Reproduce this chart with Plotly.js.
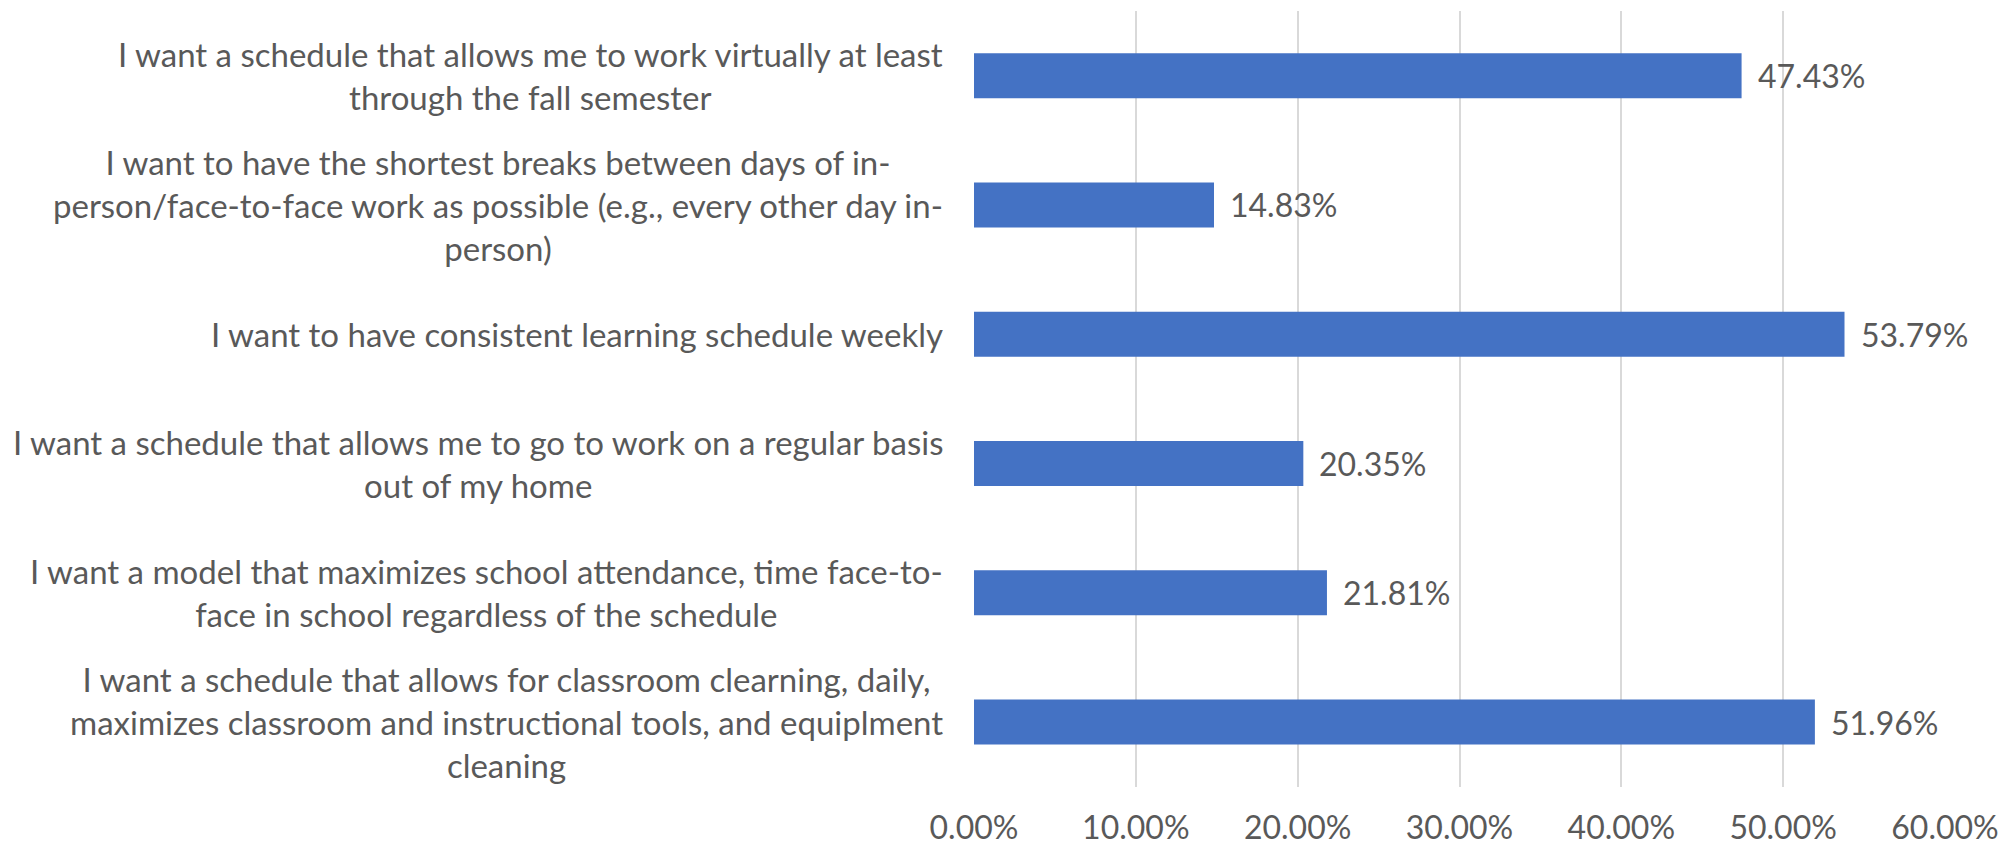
<!DOCTYPE html>
<html>
<head>
<meta charset="utf-8">
<script src="https://cdn.plot.ly/plotly-3.0.1.min.js"></script>
<style>
html,body{margin:0;padding:0;background:#fff;}
#chart{width:2015px;height:846px;}
</style>
</head>
<body>
<div id="chart"></div>
<script>
// Categories (top to bottom)
const categories = [
  "I want a schedule that allows me to work virtually at least<br>through the fall semester",
  "I want to have the shortest breaks between days of in-<br>person/face-to-face work as possible (e.g., every other day in-<br>person)",
  "I want to have consistent learning schedule weekly",
  "I want a schedule that allows me to go to work on a regular basis<br>out of my home",
  "I want a model that maximizes school attendance, time face-to-<br>face in school regardless of the schedule",
  "I want a schedule that allows for classroom clearning, daily,<br>maximizes classroom and instructional tools, and equiplment<br>cleaning"
];
const categoryKeys = ["c1","c2","c3","c4","c5","c6"];
// Share of respondents (fraction)
const values = [0.4743, 0.1483, 0.5379, 0.2035, 0.2181, 0.5196];
const valueLabels = ["47.43%", "14.83%", "53.79%", "20.35%", "21.81%", "51.96%"];
const tickValues = [0, 0.1, 0.2, 0.3, 0.4, 0.5, 0.6];
const tickLabels = ["0.00%", "10.00%", "20.00%", "30.00%", "40.00%", "50.00%", "60.00%"];

const textColor = "#595959";
const labelFont = {family: "Lato, 'Open Sans', sans-serif", size: 33, color: textColor};
const numFont = {family: "Lato, 'Open Sans', sans-serif", size: 32, color: textColor};

const trace = {
  type: "bar",
  orientation: "h",
  y: categoryKeys,
  x: values,
  marker: {color: "#4472C4"},
  hoverinfo: "skip"
};

const annotations = [];
categoryKeys.forEach((k, i) => {
  annotations.push({
    xref: "paper", yref: "y", x: 0, y: k,
    xanchor: "right", yanchor: "middle", xshift: -29,
    text: categories[i], align: "center", showarrow: false,
    font: labelFont
  });
  annotations.push({
    xref: "x", yref: "y", x: values[i], y: k,
    xanchor: "left", yanchor: "middle", xshift: 14,
    text: valueLabels[i], showarrow: false,
    font: numFont
  });
});

const layout = {
  width: 2015, height: 846,
  margin: {l: 974, r: 70, t: 11, b: 59, pad: 0},
  paper_bgcolor: "#ffffff",
  plot_bgcolor: "#ffffff",
  showlegend: false,
  bargap: 0.652,
  xaxis: {
    range: [0, 0.6],
    tickvals: tickValues,
    ticktext: tickLabels,
    showgrid: true,
    gridcolor: "#D9D9D9",
    gridwidth: 2,
    zeroline: false,
    showline: false,
    ticks: "",
    tickfont: numFont,
    ticklabelstandoff: 19
  },
  yaxis: {
    type: "category",
    categoryorder: "array",
    categoryarray: categoryKeys,
    autorange: "reversed",
    showticklabels: false,
    showgrid: false,
    zeroline: false,
    showline: false,
    ticks: ""
  },
  annotations: annotations
};

Plotly.newPlot("chart", [trace], layout, {staticPlot: true, displayModeBar: false});
</script>
</body>
</html>
